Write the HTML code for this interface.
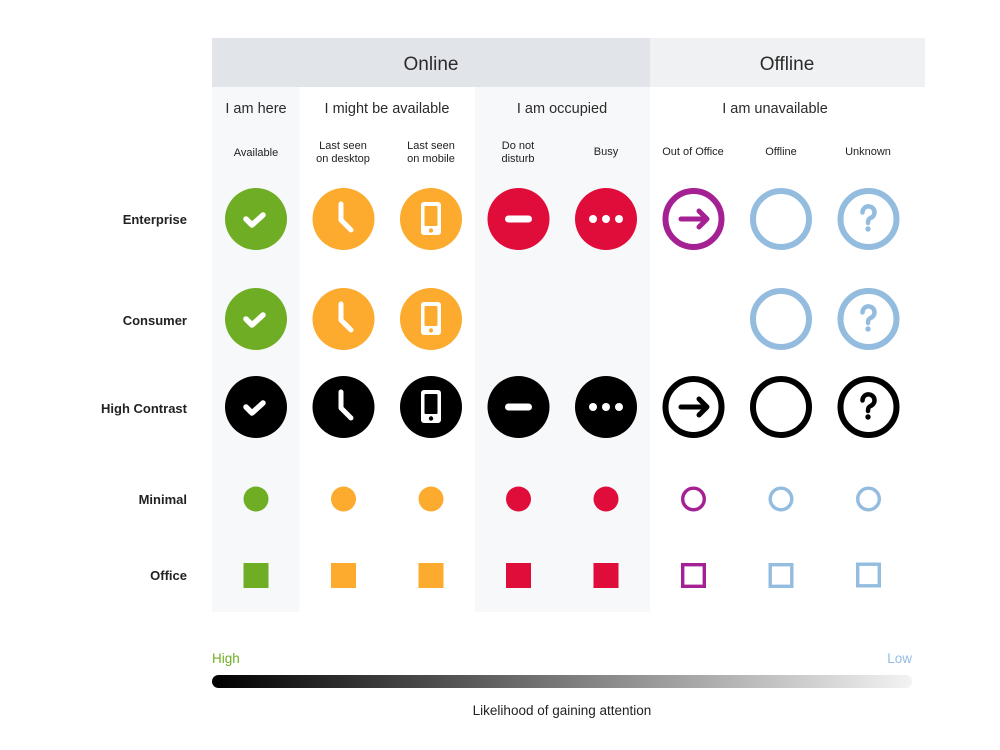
<!DOCTYPE html>
<html><head><meta charset="utf-8">
<style>
html,body{margin:0;padding:0;background:#fff;}
svg{display:block;}
text{font-family:"Liberation Sans","DejaVu Sans",sans-serif;}
</style></head>
<body>
<svg width="1000" height="750" viewBox="0 0 1000 750" xmlns="http://www.w3.org/2000/svg">
<defs>
<linearGradient id="g" x1="0" x2="1" y1="0" y2="0">
<stop offset="0" stop-color="#000"/>
<stop offset="1" stop-color="#f3f3f3"/>
</linearGradient>
</defs>
<rect width="1000" height="750" fill="#fff"/>
<rect x="212" y="87" width="87.5" height="525" fill="#f7f8fa"/>
<rect x="475" y="87" width="175" height="525" fill="#f7f8fa"/>
<rect x="212" y="38" width="438" height="49" fill="#e1e4e8"/>
<rect x="650" y="38" width="275" height="49" fill="#f0f1f2"/>
<g fill="#2b2b2b" text-anchor="middle">
<text x="431" y="70" font-size="19">Online</text>
<text x="787" y="70" font-size="19">Offline</text>
<text x="256" y="113" font-size="14.5">I am here</text>
<text x="387" y="113" font-size="14.5">I might be available</text>
<text x="562" y="113" font-size="14.5">I am occupied</text>
<text x="775" y="113" font-size="14.5">I am unavailable</text>
<g font-size="11" fill="#222">
<text x="256" y="156">Available</text>
<text x="343" y="149">Last seen</text><text x="343" y="162">on desktop</text>
<text x="431" y="149">Last seen</text><text x="431" y="162">on mobile</text>
<text x="518" y="149">Do not</text><text x="518" y="162">disturb</text>
<text x="606" y="155">Busy</text>
<text x="693" y="155">Out of Office</text>
<text x="781" y="155">Offline</text>
<text x="868" y="155">Unknown</text>
</g>
</g>
<g font-size="13" font-weight="bold" fill="#222" text-anchor="end">
<text x="187" y="224">Enterprise</text>
<text x="187" y="325">Consumer</text>
<text x="187" y="413">High Contrast</text>
<text x="187" y="504">Minimal</text>
<text x="187" y="580">Office</text>
</g>

<g>
<circle cx="256" cy="219" r="31" fill="#6fae24"/>
<path d="M246,219 l6,6 l11,-10" fill="none" stroke="#fff" stroke-width="5.5" stroke-linecap="round" stroke-linejoin="round"/>
<circle cx="343.5" cy="219" r="31" fill="#fdab2f"/>
<path d="M341,204 v16 l10,10" fill="none" stroke="#fff" stroke-width="5" stroke-linecap="round" stroke-linejoin="round"/>
<circle cx="431" cy="219" r="31" fill="#fdab2f"/>
<rect x="421" y="202" width="20" height="33" rx="3" fill="#fff"/>
<rect x="424.5" y="206" width="13" height="20" rx="1" fill="#fdab2f"/>
<circle cx="431" cy="230.5" r="2.2" fill="#fdab2f"/>
<circle cx="518.5" cy="219" r="31" fill="#e00c3a"/>
<rect x="505" y="215.5" width="27" height="7" rx="3.5" fill="#fff"/>
<circle cx="606" cy="219" r="31" fill="#e00c3a"/>
<circle cx="593" cy="219" r="4" fill="#fff"/><circle cx="606" cy="219" r="4" fill="#fff"/><circle cx="619" cy="219" r="4" fill="#fff"/>
<circle cx="693.5" cy="219" r="28" fill="none" stroke="#a52193" stroke-width="6"/>
<path d="M681,219 h25 M699,211 l8,8 l-8,8" fill="none" stroke="#a52193" stroke-width="5" stroke-linecap="round" stroke-linejoin="round"/>
<circle cx="781" cy="219" r="28" fill="none" stroke="#93bcdf" stroke-width="6"/>
<circle cx="868.5" cy="219" r="28" fill="none" stroke="#93bcdf" stroke-width="6"/>
<path d="M862.5,212.5 a6,6 0 1 1 8,5.5 c-2,1 -2.5,2 -2.5,5" fill="none" stroke="#93bcdf" stroke-width="4.5" stroke-linecap="round"/>
<circle cx="868" cy="229" r="2.7" fill="#93bcdf"/>
</g>

<g>
<circle cx="256" cy="319" r="31" fill="#6fae24"/>
<path d="M246,319 l6,6 l11,-10" fill="none" stroke="#fff" stroke-width="5.5" stroke-linecap="round" stroke-linejoin="round"/>
<circle cx="343.5" cy="319" r="31" fill="#fdab2f"/>
<path d="M341,304 v16 l10,10" fill="none" stroke="#fff" stroke-width="5" stroke-linecap="round" stroke-linejoin="round"/>
<circle cx="431" cy="319" r="31" fill="#fdab2f"/>
<rect x="421" y="302" width="20" height="33" rx="3" fill="#fff"/>
<rect x="424.5" y="306" width="13" height="20" rx="1" fill="#fdab2f"/>
<circle cx="431" cy="330.5" r="2.2" fill="#fdab2f"/>
<circle cx="781" cy="319" r="28" fill="none" stroke="#93bcdf" stroke-width="6"/>
<circle cx="868.5" cy="319" r="28" fill="none" stroke="#93bcdf" stroke-width="6"/>
<path d="M862.5,312.5 a6,6 0 1 1 8,5.5 c-2,1 -2.5,2 -2.5,5" fill="none" stroke="#93bcdf" stroke-width="4.5" stroke-linecap="round"/>
<circle cx="868" cy="329" r="2.7" fill="#93bcdf"/>
</g>

<g>
<circle cx="256" cy="407" r="31" fill="#000"/>
<path d="M246,407 l6,6 l11,-10" fill="none" stroke="#fff" stroke-width="5.5" stroke-linecap="round" stroke-linejoin="round"/>
<circle cx="343.5" cy="407" r="31" fill="#000"/>
<path d="M341,392 v16 l10,10" fill="none" stroke="#fff" stroke-width="5" stroke-linecap="round" stroke-linejoin="round"/>
<circle cx="431" cy="407" r="31" fill="#000"/>
<rect x="421" y="390" width="20" height="33" rx="3" fill="#fff"/>
<rect x="424.5" y="394" width="13" height="20" rx="1" fill="#000"/>
<circle cx="431" cy="418.5" r="2.2" fill="#000"/>
<circle cx="518.5" cy="407" r="31" fill="#000"/>
<rect x="505" y="403.5" width="27" height="7" rx="3.5" fill="#fff"/>
<circle cx="606" cy="407" r="31" fill="#000"/>
<circle cx="593" cy="407" r="4" fill="#fff"/><circle cx="606" cy="407" r="4" fill="#fff"/><circle cx="619" cy="407" r="4" fill="#fff"/>
<circle cx="693.5" cy="407" r="28" fill="none" stroke="#000" stroke-width="6"/>
<path d="M681,407 h25 M699,399 l8,8 l-8,8" fill="none" stroke="#000" stroke-width="5" stroke-linecap="round" stroke-linejoin="round"/>
<circle cx="781" cy="407" r="28" fill="none" stroke="#000" stroke-width="6"/>
<circle cx="868.5" cy="407" r="28" fill="none" stroke="#000" stroke-width="6"/>
<path d="M862.5,400.5 a6,6 0 1 1 8,5.5 c-2,1 -2.5,2 -2.5,5" fill="none" stroke="#000" stroke-width="4.5" stroke-linecap="round"/>
<circle cx="868" cy="417" r="2.7" fill="#000"/>
</g>

<g>
<circle cx="256" cy="499" r="12.5" fill="#6fae24"/>
<circle cx="343.5" cy="499" r="12.5" fill="#fdab2f"/>
<circle cx="431" cy="499" r="12.5" fill="#fdab2f"/>
<circle cx="518.5" cy="499" r="12.5" fill="#e00c3a"/>
<circle cx="606" cy="499" r="12.5" fill="#e00c3a"/>
<circle cx="693.5" cy="499" r="10.8" fill="none" stroke="#a52193" stroke-width="3.4"/>
<circle cx="781" cy="499" r="10.8" fill="none" stroke="#93bcdf" stroke-width="3.4"/>
<circle cx="868.5" cy="499" r="10.8" fill="none" stroke="#93bcdf" stroke-width="3.4"/>
</g>

<g>
<rect x="243.5" y="563" width="25" height="25" fill="#6fae24"/>
<rect x="331" y="563" width="25" height="25" fill="#fdab2f"/>
<rect x="418.5" y="563" width="25" height="25" fill="#fdab2f"/>
<rect x="506" y="563" width="25" height="25" fill="#e00c3a"/>
<rect x="593.5" y="563" width="25" height="25" fill="#e00c3a"/>
<rect x="682.7" y="564.7" width="21.6" height="21.6" fill="none" stroke="#a52193" stroke-width="3.4"/>
<rect x="770.2" y="564.7" width="21.6" height="21.6" fill="none" stroke="#93bcdf" stroke-width="3.4"/>
<rect x="857.7" y="564.2" width="21.6" height="21.6" fill="none" stroke="#93bcdf" stroke-width="3.4"/>
</g>

<text x="212" y="663" font-size="13.5" fill="#6fae24">High</text>
<text x="912" y="663" font-size="13.5" fill="#93bcdf" text-anchor="end">Low</text>
<rect x="212" y="675" width="700" height="13" rx="6.5" fill="url(#g)"/>
<text x="562" y="715" font-size="13.5" fill="#222" text-anchor="middle">Likelihood of gaining attention</text>
</svg>
</body></html>
